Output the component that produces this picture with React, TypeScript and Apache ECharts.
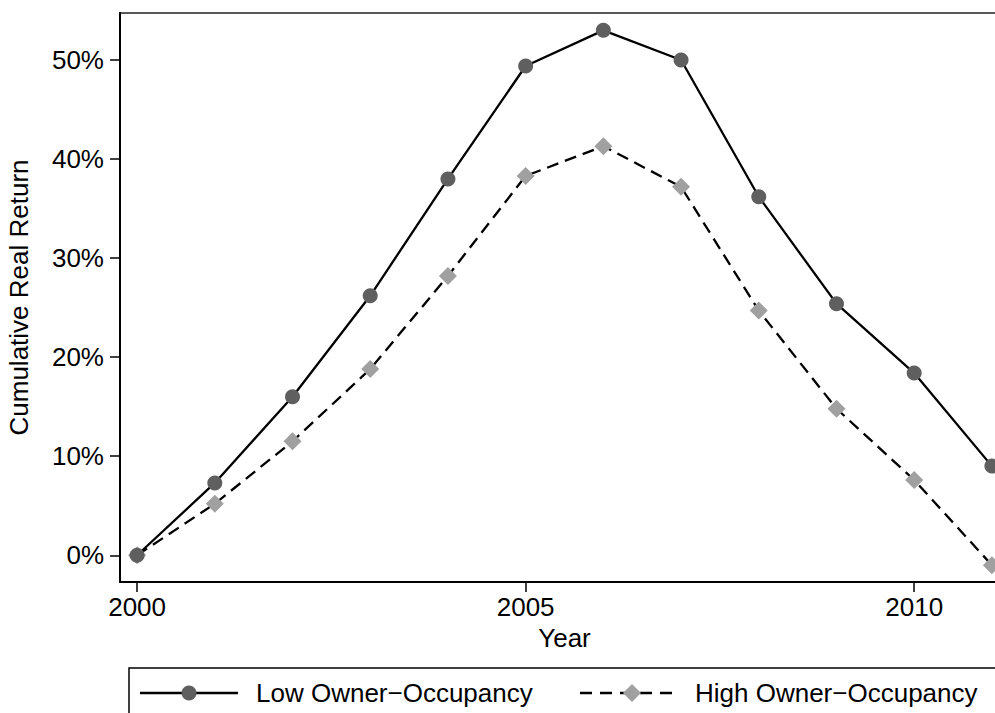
import React, { useEffect, useRef } from "react";
import * as echarts from "echarts";

// Cumulative real house-price return by owner-occupancy group
const years = [2000, 2001, 2002, 2003, 2004, 2005, 2006, 2007, 2008, 2009, 2010, 2011];
const lowOwnerOcc = [0, 7.3, 16.0, 26.2, 38.0, 49.4, 53.0, 50.0, 36.2, 25.4, 18.4, 9.0];
const highOwnerOcc = [0, 5.2, 11.5, 18.8, 28.2, 38.3, 41.3, 37.2, 24.7, 14.8, 7.6, -1.0];
const xTicks = [2000, 2005, 2010];
const yTicks = [0, 10, 20, 30, 40, 50];
const seriesNames = ["Low Owner\u2212Occupancy", "High Owner\u2212Occupancy"];

const FONT = "'Liberation Sans', Arial, Helvetica, sans-serif";
const FS = 26;
const CIRCLE_COLOR = "#5f5f5f";
const DIAMOND_COLOR = "#a0a0a0";

export default function App() {
  const ref = useRef<HTMLDivElement>(null);

  useEffect(() => {
    if (!ref.current) return;
    const chart = echarts.init(ref.current, null, { renderer: "svg" });
    const legendY = 693;

    chart.setOption({
      animation: false,
      backgroundColor: "#ffffff",
      textStyle: { fontFamily: FONT, color: "#000" },
      grid: {
        left: 120,
        top: 13,
        width: 889,
        height: 569,
        outerBoundsMode: "none",
        containLabel: false,
        show: true,
        borderColor: "#222",
        borderWidth: 1.5,
        backgroundColor: "transparent",
      },
      xAxis: {
        type: "value",
        min: 1999.78,
        max: 2011.22,
        name: "Year",
        nameLocation: "middle",
        nameGap: 42,
        nameTextStyle: { fontSize: FS, color: "#000", fontFamily: FONT },
        axisLine: { show: true, onZero: false, lineStyle: { color: "#000", width: 2 } },
        axisTick: {
          show: true,
          length: 10,
          customValues: xTicks,
          lineStyle: { color: "#000", width: 1.5 },
        },
        axisLabel: {
          customValues: xTicks,
          fontSize: FS,
          color: "#000",
          fontFamily: FONT,
          margin: 12,
          formatter: (v: number) => String(v),
        },
        splitLine: { show: false },
      },
      yAxis: {
        type: "value",
        min: -2.7,
        max: 54.75,
        name: "Cumulative Real Return",
        nameLocation: "middle",
        nameGap: 88,
        nameTextStyle: { fontSize: FS, color: "#000", fontFamily: FONT },
        axisLine: { show: true, onZero: false, lineStyle: { color: "#000", width: 2 } },
        axisTick: {
          show: true,
          length: 10,
          customValues: yTicks,
          lineStyle: { color: "#000", width: 1.5 },
        },
        axisLabel: {
          customValues: yTicks,
          fontSize: FS,
          color: "#000",
          fontFamily: FONT,
          margin: 16,
          formatter: (v: number) => `${v}%`,
        },
        splitLine: { show: false },
      },
      series: [
        {
          name: seriesNames[0],
          type: "line",
          data: years.map((y, i) => [y, lowOwnerOcc[i]]),
          symbol: "circle",
          symbolSize: 15,
          showAllSymbol: true,
          clip: false,
          itemStyle: { color: CIRCLE_COLOR, borderWidth: 0 },
          lineStyle: { color: "#000", width: 2.3, type: "solid" },
          z: 3,
        },
        {
          name: seriesNames[1],
          type: "line",
          data: years.map((y, i) => [y, highOwnerOcc[i]]),
          symbol: "diamond",
          symbolSize: 18,
          showAllSymbol: true,
          clip: false,
          itemStyle: { color: DIAMOND_COLOR, borderWidth: 0 },
          lineStyle: { color: "#000", width: 2.3, type: [12, 7] },
          z: 2,
        },
      ],
      graphic: [
        {
          type: "rect",
          shape: { x: 129, y: 668, width: 900, height: 80 },
          style: { fill: "none", stroke: "#000", lineWidth: 1.5 },
        },
        {
          type: "line",
          shape: { x1: 140, y1: legendY, x2: 238, y2: legendY },
          style: { stroke: "#000", lineWidth: 2.3 },
        },
        {
          type: "circle",
          shape: { cx: 189, cy: legendY, r: 7.5 },
          style: { fill: CIRCLE_COLOR },
        },
        {
          type: "text",
          x: 256,
          y: legendY,
          style: {
            text: seriesNames[0],
            fontSize: FS,
            fontFamily: FONT,
            fill: "#000",
            verticalAlign: "middle",
            align: "left",
          },
        },
        {
          type: "line",
          shape: { x1: 580, y1: legendY, x2: 680, y2: legendY },
          style: { stroke: "#000", lineWidth: 2.3, lineDash: [12, 8] },
        },
        {
          type: "polygon",
          shape: {
            points: [
              [632, legendY - 9],
              [641, legendY],
              [632, legendY + 9],
              [623, legendY],
            ],
          },
          style: { fill: DIAMOND_COLOR },
        },
        {
          type: "text",
          x: 695,
          y: legendY,
          style: {
            text: seriesNames[1],
            fontSize: FS,
            fontFamily: FONT,
            fill: "#000",
            verticalAlign: "middle",
            align: "left",
          },
        },
      ],
    });

    return () => chart.dispose();
  }, []);

  return (
    <div
      ref={ref}
      style={{ position: "fixed", left: 0, top: 0, width: 995, height: 713, overflow: "hidden" }}
    />
  );
}
